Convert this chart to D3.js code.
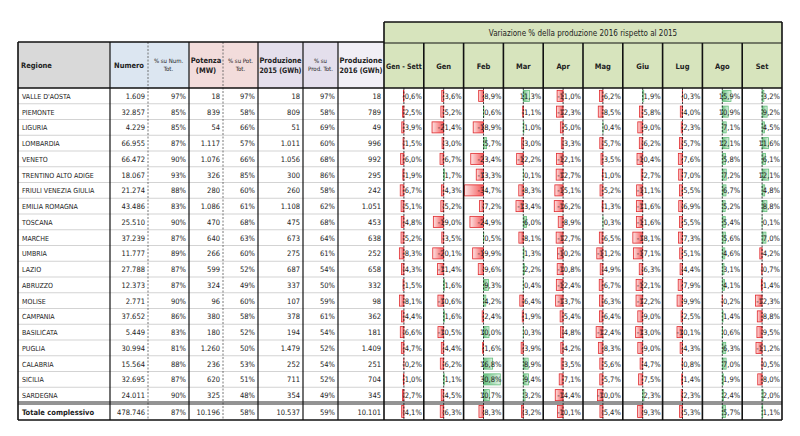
<!DOCTYPE html>
<html>
<head>
<meta charset="utf-8">
<script src="https://cdn.jsdelivr.net/npm/d3@7"></script>
<style>
  body { margin: 0; background: #fff; }
  svg { display: block; font-family: "Liberation Sans Narrow", "DejaVu Sans Condensed", "Arial Narrow", sans-serif; }
</style>
</head>
<body>
<div id="chart"></div>
<script>
// ---- data ----
const regioni = ["VALLE D'AOSTA","PIEMONTE","LIGURIA","LOMBARDIA","VENETO","TRENTINO ALTO ADIGE",
  "FRIULI VENEZIA GIULIA","EMILIA ROMAGNA","TOSCANA","MARCHE","UMBRIA","LAZIO","ABRUZZO","MOLISE",
  "CAMPANIA","BASILICATA","PUGLIA","CALABRIA","SICILIA","SARDEGNA","Totale complessivo"];
const numero   = [1609,32857,4229,66955,66472,18067,21274,43486,25510,37239,11777,27788,12373,2771,37652,5449,30994,15564,32695,24011,478746];
const pctNum   = [97,85,85,87,90,93,88,83,90,87,89,87,87,90,86,83,81,88,87,90,87];
const potenza  = [18,839,54,1117,1076,326,280,1086,470,640,266,599,324,96,380,180,1260,236,620,325,10196];
const pctPot   = [97,58,66,57,66,85,60,61,68,63,60,52,49,60,58,52,50,53,51,48,58];
const prod2015 = [18,809,51,1011,1056,300,260,1108,475,673,275,687,337,107,378,194,1479,252,711,354,10537];
const pctProd  = [97,58,69,60,68,86,58,62,68,64,61,54,50,59,61,54,52,54,52,49,59];
const prod2016 = [18,789,49,996,992,295,242,1051,453,638,252,658,332,98,362,181,1409,251,704,345,10101];

const mesi = ["Gen - Sett","Gen","Feb","Mar","Apr","Mag","Giu","Lug","Ago","Set"];
const varGenSett = [-0.6,-2.5,-3.9,-1.5,-6.0,-1.9,-6.7,-5.1,-4.8,-5.2,-8.3,-4.3,-1.5,-8.1,-4.4,-6.6,-4.7,-0.2,-1.0,-2.7,-4.1];
const varGen = [-3.6,-5.2,-21.4,-3.0,-6.7,1.7,-4.3,-5.2,-19.0,-3.5,-20.1,-11.4,1.6,-10.6,1.6,-10.5,-4.4,-6.2,1.1,-4.5,-6.3];
const varFeb = [-8.9,0.6,-18.9,5.7,-23.4,-13.3,-34.7,-7.2,-24.9,0.5,-19.9,-9.6,9.3,4.2,-2.4,10.0,-1.6,16.8,30.8,10.7,-8.3];
const varMar = [11.3,-1.1,1.0,-3.0,-12.2,0.1,-8.3,-13.4,6.0,-8.1,1.3,2.2,0.4,-6.4,-1.9,0.3,-3.9,8.9,9.4,3.2,-3.2];
const varApr = [-11.0,-12.3,-5.0,-3.3,-12.1,-12.7,-15.1,-16.2,-8.9,-12.7,-10.2,-10.8,-12.4,-13.7,-5.4,-4.8,-4.2,-3.5,-7.1,-14.4,-10.1];
const varMag = [-6.2,-8.5,0.4,-5.7,-3.5,-1.0,-5.2,-1.3,0.3,-6.5,-11.2,-4.9,-6.7,-6.3,-6.4,-12.4,-8.3,-5.6,-5.7,-10.0,-5.4];
const varGiu = [1.9,-5.8,-9.0,-6.2,-10.4,-2.7,-11.1,-11.6,-11.6,-18.1,-17.1,-6.3,-12.1,-12.2,-9.0,-13.0,-9.0,-4.7,-7.5,2.3,-9.3];
const varLug = [-0.3,-4.0,-2.3,-5.7,-7.6,-7.0,-5.5,-6.9,-5.5,-7.3,-5.1,-4.4,-7.9,-9.9,-2.5,-10.1,-4.3,-0.8,-1.4,-2.3,-5.3];
const varAgo = [15.9,10.9,7.1,12.1,5.8,7.2,6.7,5.2,5.4,5.6,4.6,3.1,4.1,-0.2,1.4,0.6,6.3,7.0,1.9,2.4,5.7];
const varSet = [3.2,9.2,4.5,11.6,6.1,12.1,4.8,8.8,0.1,7.0,-4.2,-0.7,-1.4,-12.3,-8.8,-9.5,-11.2,-0.5,-8.0,2.0,1.1];
const variazioni = [varGenSett,varGen,varFeb,varMar,varApr,varMag,varGiu,varLug,varAgo,varSet];

const titolo = "Variazione % della produzione 2016 rispetto al 2015";

// ---- layout ----
const width = 800, height = 436;
const left = 18, right = 782;
const titleTop = 22, headTop = 43, leftHeadTop = 42, headBottom = 88, rowsBottom = 403, totBottom = 420;

const it = d3.formatLocale({decimal: ",", thousands: ".", grouping: [3], currency: ["€", ""], minus: "-"});
const fInt = it.format(",.0f"), fDec = it.format(".1f");

const leftCols = [
  {head: ["Regione"], vals: regioni, x0: 18, x1: 110, fill: "#d9d9d9", start: true, size: 7.5, bold: true, sep: "solid"},
  {head: ["Numero"], vals: numero.map(fInt), x0: 110, x1: 148, fill: "#dce6f1", size: 7.5, bold: true, sep: "dash"},
  {head: ["% su Num.", "Tot."], vals: pctNum.map(d => d + "%"), x0: 148, x1: 189, fill: "#dce6f1", size: 6, sep: "solid"},
  {head: ["Potenza", "(MW)"], vals: potenza.map(fInt), x0: 189, x1: 223, fill: "#f2dcdb", size: 7.5, bold: true, sep: "dash"},
  {head: ["% su Pot.", "Tot."], vals: pctPot.map(d => d + "%"), x0: 223, x1: 258, fill: "#f2dcdb", size: 6, sep: "solid"},
  {head: ["Produzione", "2015 (GWh)"], vals: prod2015.map(fInt), x0: 258, x1: 303, fill: "#e4dfec", size: 7.5, bold: true, sep: "solid"},
  {head: ["% su", "Prod. Tot."], vals: pctProd.map(d => d + "%"), x0: 303, x1: 338, fill: "#e4dfec", size: 6, sep: "solid"},
  {head: ["Produzione", "2016 (GWh)"], vals: prod2016.map(fInt), x0: 338, x1: 384, fill: "#f1eff6", size: 7.5, bold: true, sep: "solid"}
];

const nData = regioni.length - 1;
const y = d3.scaleBand().domain(d3.range(nData)).range([headBottom, rowsBottom]);
const rowY = i => i < nData ? y(i) : rowsBottom;
const rowH = i => i < nData ? y.bandwidth() : totBottom - rowsBottom;

const x = d3.scaleBand().domain(mesi).range([384, right]);
const bw = x.bandwidth();
const maxAbs = d3.max(variazioni.flat(), d => Math.abs(d));
const bar = d3.scaleLinear().domain([-maxAbs, maxAbs]).range([-(bw / 2 - 1), bw / 2 - 1]);

// squeeze text that does not fit its cell
function fit(sel, maxW) {
  sel.each(function () {
    if (this.getComputedTextLength() > maxW)
      d3.select(this).attr("textLength", maxW).attr("lengthAdjust", "spacingAndGlyphs");
  });
}

const svg = d3.select("#chart").append("svg").attr("width", width).attr("height", height);

const defs = svg.append("defs");
const gNeg = defs.append("linearGradient").attr("id", "neg");
gNeg.append("stop").attr("offset", "0%").attr("stop-color", "#fde3e3");
gNeg.append("stop").attr("offset", "100%").attr("stop-color", "#f4585a");
const gPos = defs.append("linearGradient").attr("id", "pos");
gPos.append("stop").attr("offset", "0%").attr("stop-color", "#63be7b");
gPos.append("stop").attr("offset", "100%").attr("stop-color", "#e2f3e6");

// ---- left header ----
const lh = svg.append("g");
lh.selectAll("rect").data(leftCols).join("rect")
  .attr("x", d => d.x0).attr("y", leftHeadTop).attr("width", d => d.x1 - d.x0).attr("height", headBottom - leftHeadTop)
  .attr("fill", d => d.fill);
leftCols.forEach(c => {
  const cx = c.start ? c.x0 + 3 : (c.x0 + c.x1) / 2;
  const t = lh.append("text")
    .attr("text-anchor", c.start ? "start" : "middle")
    .attr("font-size", c.size).attr("font-weight", c.bold ? "bold" : "normal").attr("fill", "#222");
  const n = c.head.length, lineH = c.size + 2.5;
  const spans = t.selectAll("tspan").data(c.head).join("tspan")
    .attr("x", cx)
    .attr("y", (d, k) => (leftHeadTop + headBottom) / 2 + (k - (n - 1) / 2) * lineH + c.size * 0.35)
    .text(d => d);
  fit(spans, c.x1 - c.x0 - 3);
});

// ---- right header ----
const rh = svg.append("g");
rh.append("rect").attr("x", 384).attr("y", titleTop).attr("width", right - 384).attr("height", headBottom - titleTop).attr("fill", "#d7e4bd");
rh.append("text").attr("x", (384 + right) / 2).attr("y", (titleTop + headTop) / 2 + 3)
  .attr("text-anchor", "middle").attr("font-size", 8).attr("fill", "#222").text(titolo);
const mh = rh.selectAll(".m").data(mesi).join("text").attr("class", "m")
  .attr("x", d => x(d) + bw / 2).attr("y", (headTop + headBottom) / 2 + 3)
  .attr("text-anchor", "middle").attr("font-size", 7.5).attr("font-weight", "bold").attr("fill", "#222").text(d => d);
fit(mh, bw - 4);

// ---- rows ----
const rows = d3.range(regioni.length);
const body = svg.append("g");

// horizontal row lines
body.selectAll(".hl").data(d3.range(1, nData)).join("line").attr("class", "hl")
  .attr("x1", left).attr("x2", right).attr("y1", d => y(d)).attr("y2", d => y(d))
  .attr("stroke", "#c8c8c8").attr("stroke-width", 0.8);

// left values
leftCols.forEach(c => {
  const txt = body.append("g").selectAll("text").data(rows).join("text")
    .attr("x", c.start ? c.x0 + 4 : c.x1 - 3)
    .attr("y", i => rowY(i) + rowH(i) / 2 + 3)
    .attr("text-anchor", c.start ? "start" : "end")
    .attr("font-size", i => c.start ? (i < nData ? 7 : 7.5) : 7.5)
    .attr("font-weight", i => (c.start && i === nData) ? "bold" : "normal")
    .attr("fill", "#222")
    .text(i => c.vals[i]);
  fit(txt, c.x1 - c.x0 - 6);
});

// data bars and variation values
mesi.forEach((m, j) => {
  const vals = variazioni[j];
  const ax = x(m) + bw / 2;
  const g = body.append("g");
  g.selectAll("rect").data(rows).join("rect")
    .attr("x", i => ax + Math.min(0, bar(vals[i])))
    .attr("y", i => rowY(i) + rowH(i) * 0.15)
    .attr("width", i => Math.abs(bar(vals[i])))
    .attr("height", i => rowH(i) * 0.7)
    .attr("fill", i => vals[i] < 0 ? "url(#neg)" : "url(#pos)")
    .attr("stroke", i => vals[i] < 0 ? "#e0282c" : "#63be7b")
    .attr("stroke-width", 0.8);
  g.append("line").attr("x1", ax).attr("x2", ax).attr("y1", headBottom).attr("y2", totBottom)
    .attr("stroke", "#111").attr("stroke-width", 0.8).attr("stroke-dasharray", "2,1.5");
  g.selectAll("text").data(rows).join("text")
    .attr("x", x(m) + bw - 2)
    .attr("y", i => rowY(i) + rowH(i) / 2 + 3)
    .attr("text-anchor", "end").attr("font-size", 7.5).attr("fill", "#222")
    .text(i => fDec(vals[i]) + "%");
});

// ---- grid / borders ----
const grid = svg.append("g").attr("fill", "none");
leftCols.slice(0, -1).forEach(c => {
  const dashed = c.sep === "dash";
  grid.append("line").attr("x1", c.x1).attr("x2", c.x1).attr("y1", leftHeadTop).attr("y2", totBottom)
    .attr("stroke", dashed ? "#555" : "#111").attr("stroke-width", dashed ? 0.8 : 1.2)
    .attr("stroke-dasharray", dashed ? "2,1.5" : null);
});
mesi.forEach(m => {
  grid.append("line").attr("x1", x(m)).attr("x2", x(m)).attr("y1", headTop).attr("y2", totBottom)
    .attr("stroke", "#111").attr("stroke-width", 1.6);
});
const hLine = (x1, x2, yy, w) => grid.append("line").attr("x1", x1).attr("x2", x2).attr("y1", yy).attr("y2", yy).attr("stroke", "#111").attr("stroke-width", w);
const vLine = (xx, y1, y2, w) => grid.append("line").attr("x1", xx).attr("x2", xx).attr("y1", y1).attr("y2", y2).attr("stroke", "#111").attr("stroke-width", w);
vLine(right, titleTop, totBottom, 1.6);
vLine(384, titleTop, headTop, 1.6);
vLine(left, leftHeadTop, totBottom, 1.6);
hLine(384, right, titleTop, 1.6);
hLine(384, right, headTop, 1.2);
hLine(left, 384, leftHeadTop, 1.6);
hLine(left, right, headBottom, 1.6);
hLine(left, right, rowsBottom - 1, 0.9);
hLine(left, right, rowsBottom + 1, 0.9);
hLine(left, right, totBottom, 1.6);
</script>
</body>
</html>
